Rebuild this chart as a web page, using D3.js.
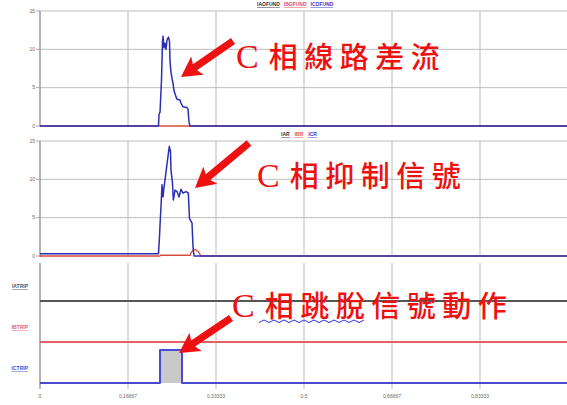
<!DOCTYPE html><meta charset="utf-8">
<title>C phase differential trip record</title>
<style>
  body{margin:0;background:#fff}
  svg{display:block}
  text{font-family:"Liberation Sans",sans-serif}
</style>
<script src="https://d3js.org/d3.v7.min.js"></script>
<body><script>
const W = 567, H = 405;

// ---- data ----
const xTicks = [0, 1/6, 2/6, 3/6, 4/6, 5/6];
const xTickLabels = ["0", "0.16667", "0.33333", "0.5", "0.66667", "0.83333"];
const yTicks = [0, 5, 10, 15];

// panel 1 : ICOFUND (blue), IBOFUND (red), IAOFUND (black)
const icofundT = [0, 0.2244, 0.2254, 0.2273, 0.2301, 0.2320, 0.2330, 0.2348, 0.2367, 0.2386, 0.2405, 0.2434, 0.2453, 0.2462, 0.2481, 0.2500, 0.2519, 0.2538, 0.2557, 0.2576, 0.2595, 0.2652, 0.2670, 0.2708, 0.2784, 0.2803, 0.2822, 0.2841, 1];
const icofundV = [0, 0, 1.5, 1.8, 6, 11, 11.7, 10.2, 10.8, 10.0, 11.2, 11.6, 11.0, 8.5, 7.0, 6.2, 5.6, 4.6, 4.2, 3.8, 3.5, 3.4, 3.0, 2.5, 2.4, 2.2, 0.5, 0, 0];
const ibofundT = [0, 1];
const ibofundV = [0, 0];

// panel 2 : ICR (blue), IBR (red)
const icrT = [0, 0.2244, 0.2263, 0.2273, 0.2292, 0.2311, 0.2330, 0.2348, 0.2367, 0.2396, 0.2424, 0.2449, 0.2472, 0.2481, 0.2509, 0.2525, 0.2557, 0.2595, 0.2633, 0.2670, 0.2708, 0.2765, 0.2809, 0.2831, 0.2879, 0.2898, 0.2917, 1];
const icrV = [0.3, 0.3, 2.5, 4.0, 6.5, 9.3, 7.7, 8.9, 9.9, 11.5, 13.0, 14.3, 13.6, 11.2, 9.5, 7.3, 8.6, 8.4, 7.7, 8.7, 8.2, 8.4, 8.2, 4.9, 4.3, 1.2, 0, 0];
const ibrT = [0, 0.2273, 0.2280, 0.2830, 0.2845, 0.2860, 0.2898, 0.2945, 0.2992, 0.3030, 0.3050, 1];
const ibrV = [0, 0, 0.1, 0.1, 0.1, 0.4, 0.75, 0.85, 0.6, 0.2, 0, 0];

// panel 3 : trip signals
const tripNames = ["IATRIP", "IBTRIP", "ICTRIP"];
const tripColors = ["#555", "#e06262", "#4a4ad0"];
const ictripT = [0, 0.2273, 0.2273, 0.2690, 0.2690, 1];
const ictripV = [0, 0, 1, 1, 0, 0];

// annotations
const notes = ["相線路差流", "相抑制信號", "相跳脫信號動作"];

// ---- scales ----
const x = d3.scaleLinear([0, 1], [40, 568]);
const y1 = d3.scaleLinear([0, 15], [126, 11]);
const y2 = d3.scaleLinear([0, 15], [256, 141]);
const yBand = d3.scalePoint(tripNames, [301, 383]);
const yDig = d3.scaleLinear([0, 1], [0, -33]);

const svg = d3.select("body").append("svg").attr("width", W).attr("height", H);

function panel(y, top, bottom){
  const g = svg.append("g");
  // vertical grid
  g.selectAll("line.v").data(xTicks.slice(1)).join("line")
    .attr("x1", d=>x(d)).attr("x2", d=>x(d))
    .attr("y1", top).attr("y2", bottom)
    .attr("stroke", "#bdbdbd").attr("stroke-width", 1);
  if (y){
    g.selectAll("line.h").data(yTicks.slice(1)).join("line")
      .attr("x1", 40).attr("x2", W).attr("y1", d=>y(d)).attr("y2", d=>y(d))
      .attr("stroke", "#bdbdbd").attr("stroke-width", 1);
    g.selectAll("text.yt").data(yTicks).join("text")
      .attr("x", 35).attr("y", d=>y(d)+1.8).attr("text-anchor", "end")
      .attr("font-size", 5).attr("fill", "#666").text(d=>d);
    g.selectAll("line.tk").data(yTicks).join("line")
      .attr("x1", 36).attr("x2", 40).attr("y1", d=>y(d)).attr("y2", d=>y(d))
      .attr("stroke", "#aaa");
  }
  g.append("line").attr("x1", 40).attr("x2", 40).attr("y1", top).attr("y2", bottom)
    .attr("stroke", "#9a9a9a").attr("stroke-width", 1.5);
  return g;
}

function series(g, y, T, V, color, w){
  const line = d3.line().x(d=>x(d[0])).y(d=>y(d[1]));
  g.append("path").datum(d3.zip(T, V)).attr("d", line)
    .attr("fill", "none").attr("stroke", color).attr("stroke-width", w)
    .attr("stroke-linejoin", "round");
}

function legend(names, colors, x0, yy, gap){
  let xx = x0;
  names.forEach((n, i)=>{
    const t = svg.append("text").attr("x", xx).attr("y", yy)
      .attr("font-size", 5).attr("font-weight", "bold")
      .attr("text-decoration", "underline").attr("fill", colors[i]).text(n);
    xx += t.node().getComputedTextLength() + gap;
  });
}

// panel 1
const p1 = panel(y1, 11, 127);
series(p1, y1, ibofundT, ibofundV, "#d84a3a", 1.5);
series(p1, y1, icofundT, icofundV, "#2b2fb8", 1.5);
legend(["IAOFUND", "IBOFUND", "ICOFUND"], ["#333", "#e05050", "#3a3ac0"], 257, 6, 4);

// panel 2
const p2 = panel(y2, 141, 257);
series(p2, y2, ibrT, ibrV, "#d84a3a", 1.3);
series(p2, y2, icrT, icrV, "#2b2fb8", 1.5);
legend(["IAR", "IBR", "ICR"], ["#333", "#e05050", "#3a3ac0"], 281, 136, 5);

// panel 3
const p3 = panel(null, 263, 389);
const cBase = yBand("ICTRIP");
p3.append("path").datum(d3.zip(ictripT, ictripV))
  .attr("d", d3.area().x(d=>x(d[0])).y0(cBase).y1(d=>cBase + yDig(d[1])))
  .attr("fill", "#c9c9c9");
tripNames.forEach((n, i)=>{
  const base = yBand(n);
  const T = n === "ICTRIP" ? ictripT : [0, 1];
  const V = n === "ICTRIP" ? ictripV : [0, 0];
  series(p3, v=>base + yDig(v), T, V, tripColors[i], 2);
  svg.append("text").attr("x", 28).attr("y", base - 13).attr("text-anchor", "end")
    .attr("font-size", 5).attr("font-weight", "bold")
    .attr("text-decoration", "underline").attr("fill", tripColors[i]).text(n);
});

// x tick labels
svg.selectAll("text.xt").data(xTicks).join("text")
  .attr("x", d=>x(d)).attr("y", 398).attr("text-anchor", "middle")
  .attr("font-size", 5).attr("fill", "#666")
  .text((d, i)=>xTickLabels[i]);

// ---- annotations: red arrows + text ----
const red = "#ee1111";
function arrow(x0, y0, x1, y1){
  const a = Math.atan2(y1 - y0, x1 - x0), L = Math.hypot(x1 - x0, y1 - y0);
  const g = svg.append("g")
    .attr("transform", `translate(${x1},${y1}) rotate(${a*180/Math.PI})`);
  const hl = 20, hw = 11, sw = 3.6;
  g.append("path").attr("fill", red)
    .attr("d", `M0,0 L${-hl},${-hw} L${-hl+3},${-sw} L${-L},${-sw} L${-L},${sw} L${-hl+3},${sw} L${-hl},${hw} Z`);
}
arrow(233, 41, 181, 77);
arrow(249, 143, 195, 188);
arrow(231, 318, 179, 353);

function note(xc, yb, label){
  const t = svg.append("text").attr("x", xc).attr("y", yb).attr("fill", red);
  t.append("tspan").attr("font-family", "Liberation Serif").attr("font-size", 34)
    .attr("transform", "scale(0.8,1)").text("C");
  t.append("tspan").attr("dx", 10).attr("font-family", "'Noto Sans CJK TC'")
    .attr("font-size", 29).attr("font-weight", 500).attr("letter-spacing", 6.5).text(label);
}
note(236, 68, notes[0]);
note(257, 187, notes[1]);
note(232, 317, notes[2]);

// spell-check squiggle under 相跳脫
const sq = d3.range(0, 22).map(i=>[259 + i*5, i % 2 ? 320 : 322.5]);
svg.append("path").attr("d", d3.line()(sq))
  .attr("fill", "none").attr("stroke", "#2a2ae0").attr("stroke-width", 1);
</script>
